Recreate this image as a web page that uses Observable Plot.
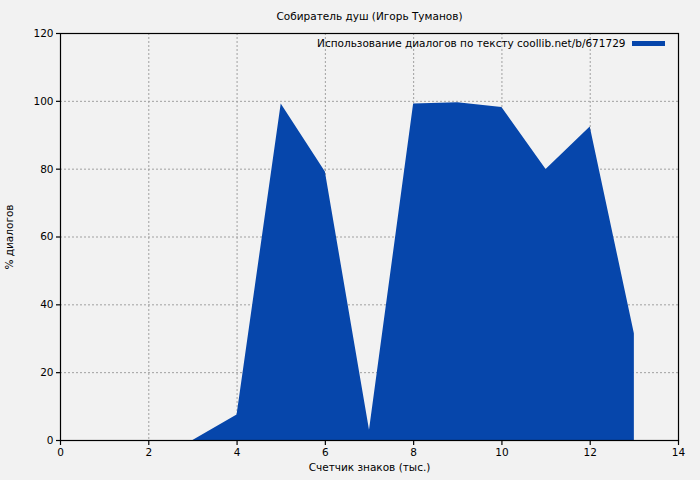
<!DOCTYPE html>
<html>
<head>
<meta charset="utf-8">
<script src="https://cdn.jsdelivr.net/npm/d3@7"></script>
<script src="https://cdn.jsdelivr.net/npm/@observablehq/plot@0.6"></script>
<style>
  html, body { margin: 0; padding: 0; background: #f2f2f2; }
  svg { display: block; }
</style>
</head>
<body>
<div id="chart"></div>
<script>
const title = "Собиратель душ (Игорь Туманов)";
const xLabel = "Счетчик знаков (тыс.)";
const yLabel = "% диалогов";
const legendLabel = "Использование диалогов по тексту coollib.net/b/671729";
const xValues = [3, 4, 5, 6, 7, 8, 9, 10, 11, 12, 13];
const yValues = [0, 7.5, 99.2, 79.2, 3, 99.2, 99.6, 98.2, 79.9, 92.4, 31.5];
const xTicks = [0, 2, 4, 6, 8, 10, 12, 14];
const yTicks = [0, 20, 40, 60, 80, 100, 120];
const xGrid = [2, 4, 6, 8, 10, 12];
const yGrid = [20, 40, 60, 80, 100];

const data = xValues.map((x, i) => ({x, y: yValues[i]}));
const fillColor = "#0646ab";
const font = "DejaVu Sans, sans-serif";
const fs = 10.5;

const chart = Plot.plot({
  width: 700,
  height: 480,
  marginLeft: 60,
  marginRight: 22,
  marginTop: 33,
  marginBottom: 40,
  style: {background: "#f2f2f2", fontFamily: font, fontSize: fs + "px", color: "#000"},
  x: {domain: [0, 14], label: null},
  y: {domain: [0, 120], label: null},
  marks: [
    Plot.gridX(xGrid, {stroke: "#a0a0a0", strokeOpacity: 1, strokeDasharray: "2,2"}),
    Plot.gridY(yGrid, {stroke: "#a0a0a0", strokeOpacity: 1, strokeDasharray: "2,2"}),
    Plot.areaY(data, {x: "x", y: "y", fill: fillColor, fillOpacity: 1}),
    Plot.frame({stroke: "#000", strokeWidth: 1.2}),
    Plot.axisX(xTicks, {tickSize: 5, tickPadding: 3, fontSize: fs, label: null, stroke: "#000", strokeWidth: 1.2}),
    Plot.axisY(yTicks, {tickSize: 4, tickPadding: 3, fontSize: fs, label: null, stroke: "#000", strokeWidth: 1.2}),
    Plot.text([title], {frameAnchor: "top", dy: -14, lineAnchor: "bottom", fontSize: fs, fill: "#000"}),
    Plot.text([xLabel], {frameAnchor: "bottom", dy: 30, fontSize: fs, fill: "#000"}),
    Plot.text([yLabel], {frameAnchor: "left", dx: -51, rotate: -90, textAnchor: "middle", fontSize: fs, fill: "#000"}),
    Plot.text([legendLabel], {frameAnchor: "top-right", dx: -53, dy: 10, lineAnchor: "middle", textAnchor: "end", fontSize: fs, fill: "#000"})
  ]
});

// legend swatch
const svg = d3.select(chart);
svg.append("rect")
  .attr("x", 632).attr("y", 41)
  .attr("width", 33).attr("height", 5)
  .attr("fill", fillColor);

document.getElementById("chart").appendChild(chart);
</script>
</body>
</html>
